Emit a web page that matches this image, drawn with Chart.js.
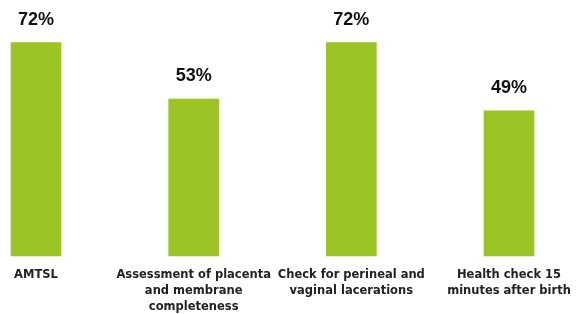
<!DOCTYPE html>
<html>
<head>
<meta charset="utf-8">
<script src="https://cdn.jsdelivr.net/npm/chart.js@4"></script>
<style>
  html, body { margin: 0; padding: 0; background: #fff; }
</style>
</head>
<body>
<canvas id="chartPraticas" width="577" height="314"></canvas>
<script>
        const categorias = [
            ['AMTSL'],
            ['Assessment of placenta', 'and membrane', 'completeness'],
            ['Check for perineal and', 'vaginal lacerations'],
            ['Health check 15', 'minutes after birth']
        ];
        const valores = [72, 53, 72, 49];

        const fonte = "'DejaVu Sans', sans-serif";

        new Chart(document.getElementById('chartPraticas'), {
            type: 'bar',
            data: {
                labels: categorias,
                datasets: [{
                    data: valores,
                    backgroundColor: '#9bc425',
                    barThickness: 50,
                    clip: false // barras das pontas não são cortadas
                }]
            },
            options: {
                responsive: false,
                animation: false,
                layout: { padding: { top: 19, left: 36, right: 68, bottom: 0 } },
                plugins: {
                    legend: { display: false },
                    tooltip: { enabled: false }
                },
                scales: {
                    x: {
                        offset: false,
                        grid: { display: false },
                        border: { display: false },
                        ticks: {
                            maxRotation: 0,
                            autoSkip: false,
                            padding: 3,
                            color: '#222',
                            font: { family: fonte, size: 11.5, weight: 'bold', lineHeight: 1.4 }
                        },
                        afterFit(scale) { scale.height = 58; }
                    },
                    y: {
                        display: false,
                        min: 0,
                        max: 80
                    }
                }
            },
            plugins: [{
                id: 'rotulosValor',
                afterDatasetsDraw(chart) {
                    const { ctx } = chart;
                    const meta = chart.getDatasetMeta(0);
                    ctx.save();
                    ctx.font = "bold 18px 'Liberation Sans', Arial, sans-serif";
                    ctx.fillStyle = '#111';
                    ctx.textAlign = 'center';
                    ctx.textBaseline = 'middle';
                    meta.data.forEach((bar, i) => {
                        // rótulo acima da barra
                        ctx.fillText(valores[i] + '%', bar.x, bar.y - 23);
                    });
                    ctx.restore();
                }
            }]
        });
</script>
</body>
</html>
